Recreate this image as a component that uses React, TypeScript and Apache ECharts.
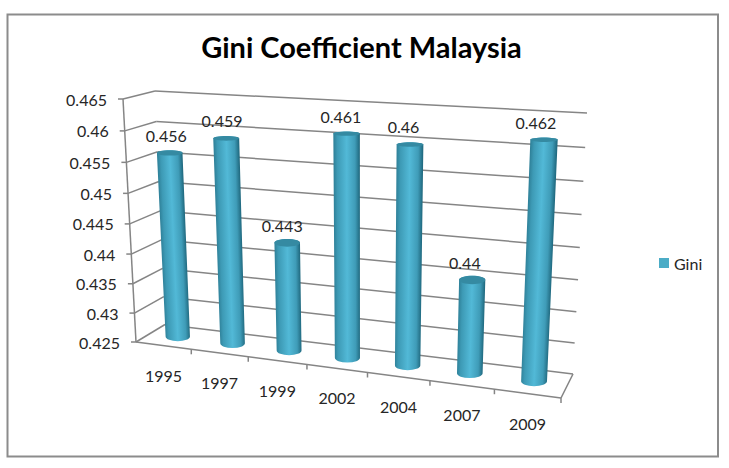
import React, { useEffect, useRef } from "react";
import * as echarts from "echarts";

const categories = ["1995", "1997", "1999", "2002", "2004", "2007", "2009"];
const giniValues = [0.456, 0.459, 0.443, 0.461, 0.46, 0.44, 0.462];
const yTickValues = [0.425, 0.43, 0.435, 0.44, 0.445, 0.45, 0.455, 0.46, 0.465];
const yTickLabels = ["0.425", "0.43", "0.435", "0.44", "0.445", "0.45", "0.455", "0.46", "0.465"];
const yMin = 0.425;
const yMax = 0.465;
const seriesName = "Gini";
const chartTitle = "Gini Coefficient Malaysia";

type P = [number, number];
// Projection planes of the 3D box: bottom-left, bottom-right, top-right, top-left
const FRONT: P[] = [[136, 342], [561, 398], [574, 129], [123, 99]];
const BACK: P[] = [[165, 324.5], [573, 374], [587, 113], [155, 91]];
const MID: P[] = [[151, 333], [567, 385.5], [580, 121], [139, 95]];

function homography(q: P[]) {
  const [[x0, y0], [x1, y1], [x2, y2], [x3, y3]] = q;
  const dx1 = x1 - x2, dx2 = x3 - x2, sx = x0 - x1 + x2 - x3;
  const dy1 = y1 - y2, dy2 = y3 - y2, sy = y0 - y1 + y2 - y3;
  const den = dx1 * dy2 - dx2 * dy1;
  const g = (sx * dy2 - dx2 * sy) / den;
  const h = (dx1 * sy - sx * dy1) / den;
  const a = x1 - x0 + g * x1, b = x3 - x0 + h * x3;
  const d = y1 - y0 + g * y1, e = y3 - y0 + h * y3;
  return (u: number, v: number): P => {
    const w = g * u + h * v + 1;
    return [(a * u + b * v + x0) / w, (d * u + e * v + y0) / w];
  };
}
const front = homography(FRONT);
const back = homography(BACK);
const mid = homography(MID);

const GRID_SIZE = 100;
const LINE = "#858585";
const FONT = "Lato, 'Open Sans', sans-serif";
const TEXT = "#262626";
const lineEl = (a: P, b: P) => ({
  type: "line",
  shape: { x1: a[0], y1: a[1], x2: b[0], y2: b[1] },
  style: { stroke: LINE, lineWidth: 1.5, fill: null },
});
const textEl = (text: string, x: number, y: number, align: string) => ({
  type: "text",
  style: { text, x, y, align, verticalAlign: "middle", fill: TEXT, fontSize: 16, fontFamily: FONT },
});
const toV = (api: any, value: number) => 1 - api.coord([0, value])[1] / GRID_SIZE;

function renderValueAxis(params: any, api: any) {
  const i = params.dataIndex;
  const v = toV(api, api.value(1));
  const f = front(0, v);
  const children: any[] = [
    lineEl(back(0, v), back(1, v)),
    lineEl(f, back(0, v)),
    lineEl([f[0] - 5, f[1]], f),
    textEl(yTickLabels[i], f[0] - 16, f[1], "right"),
  ];
  if (i === 0) {
    children.push(lineEl(front(0, 0), front(1, 0)), lineEl(front(1, 0), back(1, 0)), lineEl(front(0, 0), front(0, 1)));
    children.push(lineEl(front(1, 0), [front(1, 0)[0], front(1, 0)[1] + 5]));
  }
  return { type: "group", children };
}

function renderCategoryAxis(params: any, api: any) {
  const band = api.size([1, 0])[0] / GRID_SIZE;
  const u = api.coord([api.value(0), yMin])[0] / GRID_SIZE;
  const left = front(u - band / 2, 0);
  const c = front(u, 0);
  const children: any[] = [textEl(categories[params.dataIndex], c[0], c[1] + 29.5, "center")];
  if (params.dataIndex > 0) children.push(lineEl(left, [left[0], left[1] + 5]));
  return { type: "group", children };
}

function renderCylinder(params: any, api: any) {
  const pt = api.coord([api.value(0), api.value(1)]);
  const u = pt[0] / GRID_SIZE;
  const v = 1 - pt[1] / GRID_SIZE;
  const b = mid(u, 0);
  const t = mid(u, v);
  const hwB = 12.1 + 0.9 * u;
  const hwT = hwB + 0.8 * v;
  const ryB = 4.8;
  const ryT = Math.max(2.2, 5.6 - 3.8 * v);
  const len = Math.hypot(t[0] - b[0], t[1] - b[1]);
  const ax = (t[0] - b[0]) / len, ay = (t[1] - b[1]) / len;
  const px = -ay, py = ax;
  const perp = px > 0 ? [px, py] : [-px, -py];
  const mx = (b[0] + t[0]) / 2, my = (b[1] + t[1]) / 2;
  const hwM = (hwB + hwT) / 2;
  const gradient = new echarts.graphic.LinearGradient(
    mx - perp[0] * hwM, my - perp[1] * hwM, mx + perp[0] * hwM, my + perp[1] * hwM,
    [
      { offset: 0, color: "#2f8199" },
      { offset: 0.14, color: "#3d9ab5" },
      { offset: 0.5, color: "#52b9d7" },
      { offset: 0.82, color: "#3f9cb8" },
      { offset: 1, color: "#20697f" },
    ],
    true
  );
  const d =
    `M${b[0] - hwB} ${b[1]} A${hwB} ${ryB} 0 0 0 ${b[0] + hwB} ${b[1]} ` +
    `L${t[0] + hwT} ${t[1]} A${hwT} ${ryT} 0 0 0 ${t[0] - hwT} ${t[1]} Z`;
  return {
    type: "group",
    children: [
      { type: "path", shape: { pathData: d }, style: { fill: gradient, stroke: null } },
      {
        type: "ellipse",
        shape: { cx: t[0], cy: t[1], rx: hwT, ry: ryT },
        style: { fill: "#358aa2", stroke: null },
      },
      textEl(String(api.value(1)), t[0] - 3 - 5.5 * u, t[1] - 17.5, "center"),
    ],
  };
}

export default function App() {
  const ref = useRef<HTMLDivElement>(null);
  useEffect(() => {
    const chart = echarts.init(ref.current!, undefined, { renderer: "svg" });
    chart.setOption({
      animation: false,
      backgroundColor: "#ffffff",
      title: {
        text: chartTitle,
        left: 356.5,
        top: 27,
        textAlign: "center",
        textStyle: { fontFamily: FONT, fontSize: 29, fontWeight: 700, color: "#000000" },
      },
      legend: {
        data: [{ name: seriesName, icon: "rect" }],
        left: 654,
        top: 250,
        itemWidth: 10,
        itemHeight: 10,
        itemGap: 4,
        selectedMode: false,
        textStyle: { fontFamily: FONT, fontSize: 16, color: TEXT },
      },
      grid: { left: 0, top: 0, width: GRID_SIZE, height: GRID_SIZE, show: false },
      xAxis: { type: "category", data: categories, show: false },
      yAxis: { type: "value", min: yMin, max: yMax, interval: 0.005, show: false },
      graphic: [
        {
          type: "rect",
          shape: { x: 7.5, y: 14.5, width: 710.5, height: 442 },
          style: { fill: "none", stroke: "#8c8c8c", lineWidth: 2 },
          silent: true,
        },
      ],
      series: [
        {
          type: "custom",
          name: "valueAxis",
          silent: true,
          z: 1,
          renderItem: renderValueAxis,
          data: yTickValues.map((v) => [0, v]),
          encode: { x: 0, y: 1 },
          clip: false,
        },
        {
          type: "custom",
          name: "categoryAxis",
          silent: true,
          z: 1,
          renderItem: renderCategoryAxis,
          data: categories.map((_, i) => [i, yMin]),
          encode: { x: 0, y: 1 },
          clip: false,
        },
        {
          type: "custom",
          name: seriesName,
          z: 2,
          itemStyle: { color: "#4bacc6" },
          renderItem: renderCylinder,
          data: giniValues.map((v, i) => [i, v]),
          encode: { x: 0, y: 1 },
          clip: false,
        },
      ],
    });
    return () => chart.dispose();
  }, []);
  return <div ref={ref} style={{ position: "absolute", left: 0, top: 0, width: 729, height: 468 }} />;
}
